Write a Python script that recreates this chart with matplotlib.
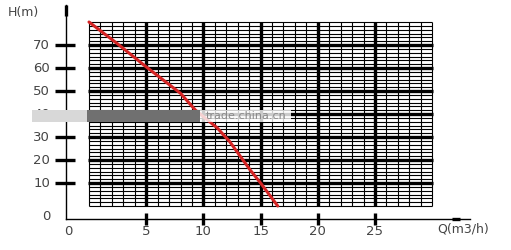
import matplotlib
matplotlib.use('Agg')
import matplotlib.pyplot as plt
import numpy as np

# pump curve
flow = [0, 2.5, 5, 8, 9.3, 11.2, 12.3, 14.1, 15, 16.5]      # Q (m3/h)
head = [80, 70.5, 60.5, 49, 41.7, 34, 28, 15.6, 10, 0]     # H (m)

q_ticks = [5, 10, 15, 20, 25]
h_ticks = [10, 20, 30, 40, 50, 60, 70]
q_max = 30
h_max = 80

txt = '#444444'

fig = plt.figure(figsize=(5.11, 2.5), dpi=100)
ax = fig.add_axes([0, 0, 1, 1])
ax.set_xlim(-7.78, 36.89)
ax.set_ylim(-19.13, 89.57)
ax.axis('off')

# fine grid
for q in np.arange(0, q_max + 0.01, 1):
	ax.plot([q, q], [0, h_max], color='k', lw=0.8, solid_capstyle='butt')
for h in np.arange(0, h_max + 0.01, 10 / 6.):
	ax.plot([0, q_max], [h, h], color='k', lw=0.8, solid_capstyle='butt')

# heavy grid lines
for q in q_ticks:
	ax.plot([q, q], [0, h_max], color='k', lw=2.4, solid_capstyle='butt')
	ax.plot([q, q], [-3.0, -8.3], color='k', lw=2.4, solid_capstyle='butt')
	ax.text(q, -11.2, str(q), ha='center', va='center', fontsize=9.5, color=txt)
for h in h_ticks:
	ax.plot([-0.1, q_max + 0.1], [h, h], color='k', lw=2.4, solid_capstyle='butt')
	ax.plot([-2.97, -1.22], [h, h], color='k', lw=2.4, solid_capstyle='butt')
	ax.text(-3.4, h, str(h), ha='right', va='center', fontsize=9.5, color=txt)

# axes
ax.plot([-2.01, -2.01], [-5.6, 87.4], color='k', lw=1.0)
ax.plot([-2.01, -2.01], [82.5, 87.4], color='k', lw=2.4, solid_capstyle='butt')
ax.plot([-2.01, 33.3], [-5.6, -5.6], color='k', lw=1.0)
ax.plot([31.7, 32.4], [-5.6, -5.6], color='k', lw=2.4, solid_capstyle='butt')
ax.text(-3.76, -4.35, '0', ha='center', va='center', fontsize=9.5, color=txt)
ax.text(-1.84, -11.2, '0', ha='center', va='center', fontsize=9.5, color=txt)
ax.text(-7.1, 84.3, 'H(m)', ha='left', va='center', fontsize=9, color=txt)
ax.text(30.4, -9.8, 'Q(m3/h)', ha='left', va='center', fontsize=9, color=txt)

# curve
ax.plot(flow, head, color='#d42424', lw=2.2, solid_capstyle='round', zorder=5)

# watermark band
ax.axhspan(36.5, 41.7, xmin=(-5.0 + 7.78) / 44.67, xmax=(-0.2 + 7.78) / 44.67,
	color='#d8d8d8', lw=0, zorder=6)
ax.axhspan(36.5, 41.7, xmin=(-0.2 + 7.78) / 44.67, xmax=(9.7 + 7.78) / 44.67,
	color='#707070', lw=0, zorder=6)
ax.axhspan(36.5, 41.7, xmin=(9.7 + 7.78) / 44.67, xmax=(17.7 + 7.78) / 44.67,
	color='white', alpha=0.8, lw=0, zorder=6)
ax.text(10.2, 39.1, 'trade.china.cn', ha='left', va='center', fontsize=8,
	color='#8a8a8a', zorder=7)

fig.savefig('out.png', dpi=100)
